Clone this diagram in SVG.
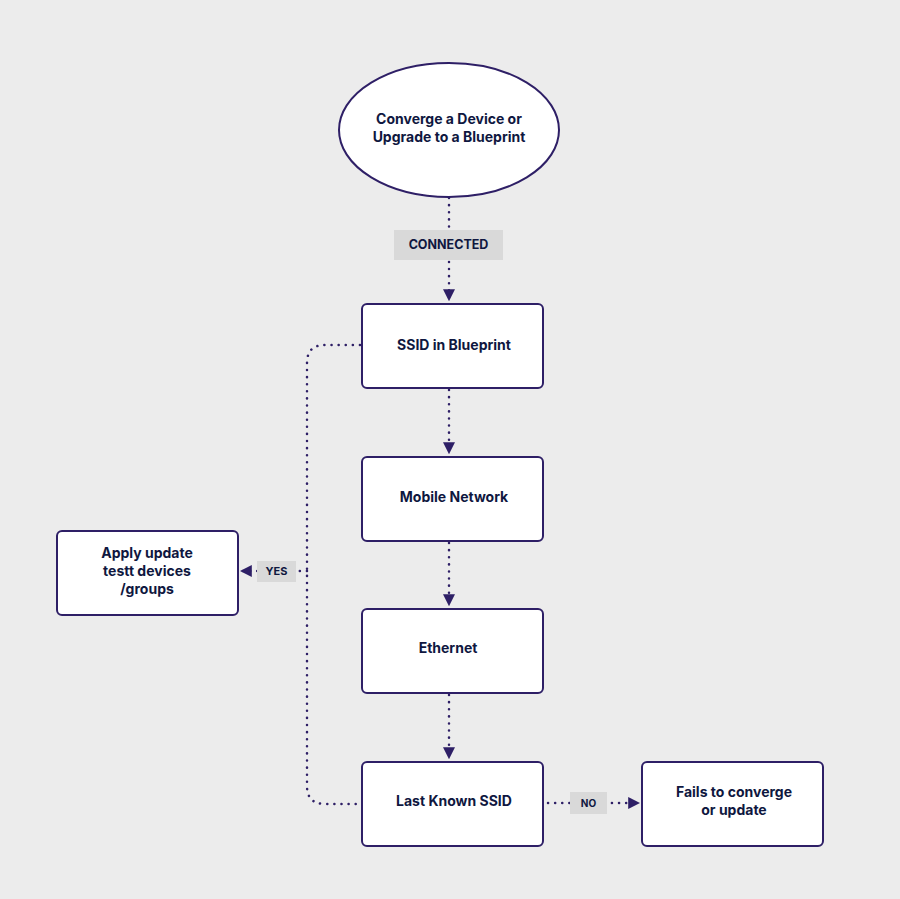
<svg xmlns="http://www.w3.org/2000/svg" width="900" height="899" viewBox="0 0 900 899">
<style>
.n{fill:#fff;stroke:#2e1f66;stroke-width:2}
.t{font-family:"Inter","Liberation Sans",sans-serif;font-weight:700;font-size:14px;fill:#0f1740;text-anchor:middle}
.l{font-family:"Inter","Liberation Sans",sans-serif;font-weight:700;font-size:11px;fill:#0f1740;text-anchor:middle}
.c{fill:none;stroke:#2e1f66;stroke-width:2.5;stroke-dasharray:0.1 7;stroke-linecap:round}
.lb{fill:#d9d9d9}
</style>
<defs><marker id="a" viewBox="0 0 10 10" refX="9" refY="5" markerWidth="12" markerHeight="12" markerUnits="userSpaceOnUse" orient="auto"><path d="M0 0L10 5L0 10Z" fill="#2e1f66"/></marker></defs>
<rect width="900" height="899" fill="#ececec"/>
<g id="connectors">
<path class="c" d="M449 198V300" marker-end="url(#a)"/>
<path class="c" d="M449 390V453" marker-end="url(#a)"/>
<path class="c" d="M449 543V605" marker-end="url(#a)"/>
<path class="c" d="M449 695V758" marker-end="url(#a)"/>
<path class="c" d="M360 345H325Q307 345 307 363V786Q307 804 325 804H360"/>
<path class="c" d="M307 571H241" marker-end="url(#a)"/>
<path class="c" d="M548 803H639" marker-end="url(#a)"/>
<rect class="lb" x="394" y="230" width="109" height="30"/><text class="l" x="448.5" y="249" style="font-size:12.5px">CONNECTED</text>
<rect class="lb" x="257" y="561" width="39" height="21"/><text class="l" x="276.5" y="575">YES</text>
<rect class="lb" x="570" y="792" width="37" height="22"/><text class="l" x="588.5" y="807" style="font-size:10px">NO</text>
</g>
<g id="start"><ellipse class="n" cx="449" cy="130" rx="110" ry="67"/><text class="t" x="449" y="124">Converge a Device or</text><text class="t" x="449" y="142">Upgrade to a Blueprint</text></g>
<g id="ssid"><rect class="n" x="362" y="304" width="181" height="84" rx="5"/><text class="t" x="454" y="350">SSID in Blueprint</text></g>
<g id="mobile"><rect class="n" x="362" y="457" width="181" height="84" rx="5"/><text class="t" x="454" y="502">Mobile Network</text></g>
<g id="ethernet"><rect class="n" x="362" y="609" width="181" height="84" rx="5"/><text class="t" x="448" y="653">Ethernet</text></g>
<g id="last"><rect class="n" x="362" y="762" width="181" height="84" rx="5"/><text class="t" x="454" y="806">Last Known SSID</text></g>
<g id="apply"><rect class="n" x="57" y="531" width="181" height="84" rx="5"/><text class="t" x="147" y="558">Apply update</text><text class="t" x="147" y="576">testt devices</text><text class="t" x="147" y="594">/groups</text></g>
<g id="fails"><rect class="n" x="642" y="762" width="181" height="84" rx="5"/><text class="t" x="734" y="797">Fails to converge</text><text class="t" x="734" y="815">or update</text></g>
</svg>
